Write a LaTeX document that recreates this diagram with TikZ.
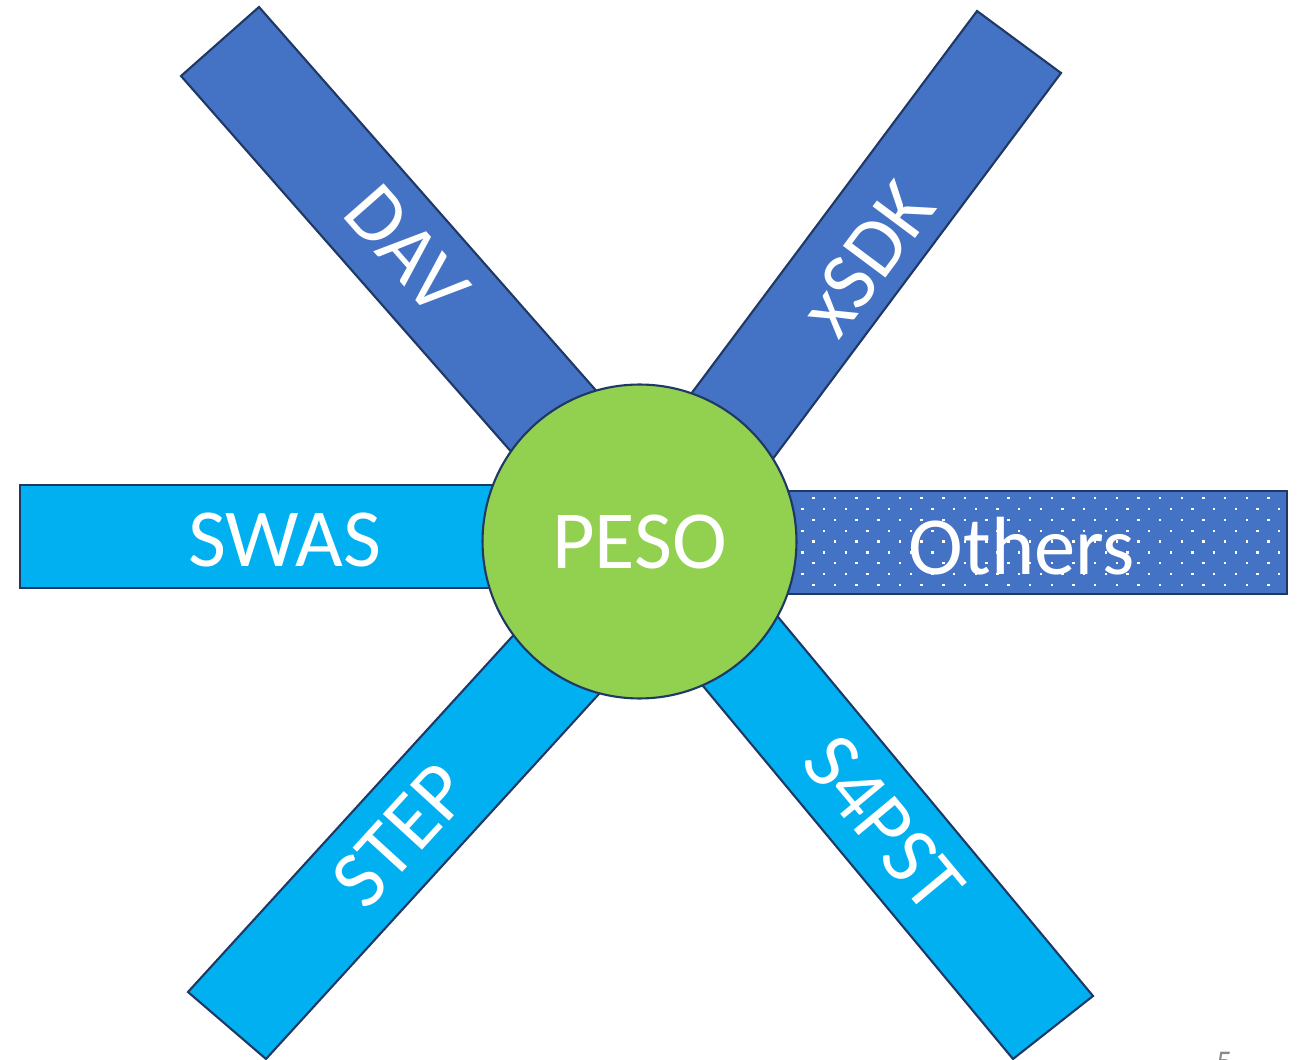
\documentclass[tikz,border=0pt]{standalone}
\usepackage{fontspec}
\setmainfont{Carlito}
\definecolor{barblue}{HTML}{4472C4}
\definecolor{barcyan}{HTML}{00B0F0}
\definecolor{pesogreen}{HTML}{92D050}
\definecolor{navyline}{HTML}{1F3864}
\definecolor{pagegray}{HTML}{898989}
\begin{document}
\begin{tikzpicture}[x=0.02cm,y=-0.02cm,
  barshape/.style={draw=navyline, line width=1.2pt, line join=miter},
  lbl/.style={text=white, font=\fontsize{47}{56}\selectfont, inner sep=0pt},
  hub/.style={circle, draw=navyline, line width=1.2pt, fill=pesogreen, minimum size=6.28cm, inner sep=0pt}]
\useasboundingbox (0,0) rectangle (1299,1060);

% bars
\path[barshape, fill=barblue] (181,76) -- (259,7) -- (689.3,496.7) -- (611.3,565.7) -- cycle;
\path[barshape, fill=barblue] (977,11) -- (1061,73) -- (686,575.2) -- (602,513.2) -- cycle;
\path[barshape, fill=barcyan] (188,992) -- (266,1059) -- (694.7,589) -- (616.7,522) -- cycle;
\path[barshape, fill=barcyan] (1093,996) -- (1013,1059) -- (605.3,568.4) -- (685.3,505.4) -- cycle;
\path[barshape, fill=barcyan] (20,485) rectangle (639,588);

% Others bar with dot pattern
\fill[barblue] (639,491) rectangle (1287,594);
\begin{scope}
  \clip (639,491) rectangle (1287,594);
  \foreach \r in {0,...,9} {
    \foreach \c in {0,...,23} {
      \pgfmathsetmacro\xx{802.5+21.67*\c+10.83*mod(\r+1,2)}
      \pgfmathsetmacro\yy{498.3+10.83*\r}
      \fill[white] (\xx-1.2,\yy-1.2) rectangle (\xx+1.2,\yy+1.2);
    }
  }
\end{scope}
\draw[barshape] (639,491) rectangle (1287,594);

% hub
\node[hub] (peso) at (639.5,541.5) {};
\node[lbl] (pesotext) at (639.5,542) {PESO};

% labels
\node[lbl, rotate=-48.7] (dav) at (407,250) {DAV};
\node[lbl, rotate=53.3] (xsdk) at (867,259) {xSDK};
\node[lbl, rotate=47.6] (step) at (401,835) {STEP};
\node[lbl, rotate=-50.3] (s4pst) at (884,824) {S4PST};
\node[lbl] (swas) at (285,540) {SWAS};
\node[lbl] (others) at (1022,546) {Others};

% page number (clipped by page edge)
\node[text=pagegray, font=\fontsize{18}{22}\selectfont, inner sep=0pt, anchor=base west] (pagenum) at (1216,1072) {5};
\end{tikzpicture}
\end{document}
